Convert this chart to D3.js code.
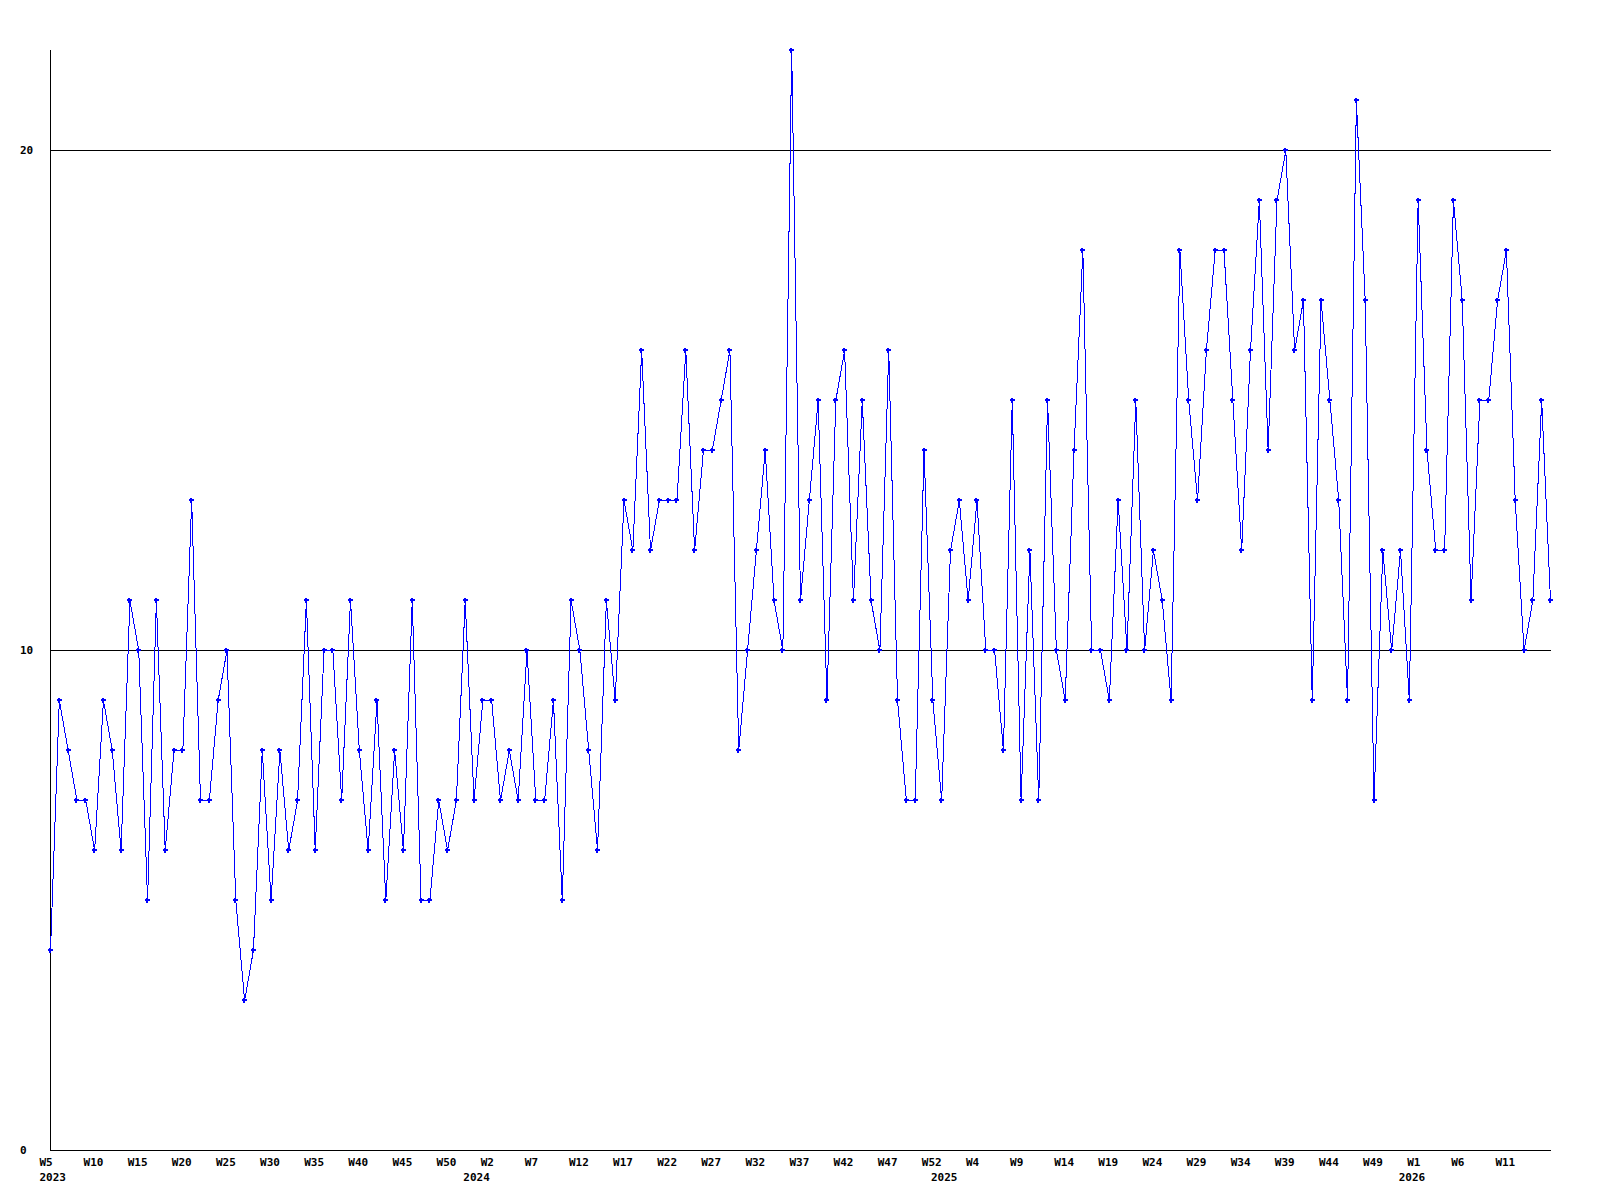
<!DOCTYPE html>
<html>
<head>
<meta charset="utf-8">
<script src="https://cdn.jsdelivr.net/npm/d3@7"></script>
<style>
  html, body { margin: 0; padding: 0; background: #fff; }
  svg { display: block; }
  text { font-family: "DejaVu Sans Mono", monospace; font-weight: bold; font-size: 11px; fill: #000; }
</style>
</head>
<body>
<svg id="chart" width="1600" height="1200"></svg>
<script>
// ---- data ----
const values = [
  4, 9, 8, 7, 7, 6, 9, 8, 6, 11,
  10, 5, 11, 6, 8, 8, 13, 7, 7, 9,
  10, 5, 3, 4, 8, 5, 8, 6, 7, 11,
  6, 10, 10, 7, 11, 8, 6, 9, 5, 8,
  6, 11, 5, 5, 7, 6, 7, 11, 7, 9,
  9, 7, 8, 7, 10, 7, 7, 9, 5, 11,
  10, 8, 6, 11, 9, 13, 12, 16, 12, 13,
  13, 13, 16, 12, 14, 14, 15, 16, 8, 10,
  12, 14, 11, 10, 22, 11, 13, 15, 9, 15,
  16, 11, 15, 11, 10, 16, 9, 7, 7, 14,
  9, 7, 12, 13, 11, 13, 10, 10, 8, 15,
  7, 12, 7, 15, 10, 9, 14, 18, 10, 10,
  9, 13, 10, 15, 10, 12, 11, 9, 18, 15,
  13, 16, 18, 18, 15, 12, 16, 19, 14, 19,
  20, 16, 17, 9, 17, 15, 13, 9, 21, 17,
  7, 12, 10, 12, 9, 19, 14, 12, 12, 19,
  17, 11, 15, 15, 17, 18, 13, 10, 11, 15,
  11
];
const weekTickLabels = ["W5","W10","W15","W20","W25","W30","W35","W40","W45","W50",
  "W2","W7","W12","W17","W22","W27","W32","W37","W42","W47",
  "W52","W4","W9","W14","W19","W24","W29","W34","W39","W44",
  "W49","W1","W6","W11"];
const weekTickIndex = weekTickLabels.map((_, k) => k * 5);
const yearLabels = ["2023", "2024", "2025", "2026"];
const yearIndex = [0, 49, 102, 155];
const yTicks = [0, 10, 20];

// ---- layout ----
const svg = d3.select("#chart");
const x = d3.scaleLinear().domain([0, values.length - 1]).range([50.5, 1550.5]);
const y = d3.scaleLinear().domain([0, 22]).range([1150.5, 50.5]);

// gridlines
svg.append("g").selectAll("line").data(yTicks.filter(d => d > 0)).join("line")
  .attr("x1", 50).attr("x2", 1551)
  .attr("y1", d => y(d)).attr("y2", d => y(d))
  .attr("stroke", "#000").attr("stroke-width", 1).attr("shape-rendering", "crispEdges");

// axes lines
svg.append("line").attr("x1", 50.5).attr("x2", 50.5).attr("y1", y(22) - 1).attr("y2", y(0))
  .attr("stroke", "#000").attr("shape-rendering", "crispEdges");
svg.append("line").attr("x1", 50).attr("x2", 1551).attr("y1", y(0)).attr("y2", y(0))
  .attr("stroke", "#000").attr("shape-rendering", "crispEdges");

// y labels
svg.append("g").selectAll("text").data(yTicks).join("text")
  .attr("x", 20).attr("y", d => y(d))
  .attr("dominant-baseline", "central")
  .text(d => d);

// x week labels
svg.append("g").selectAll("text").data(weekTickLabels).join("text")
  .attr("x", (d, k) => x(weekTickIndex[k]) - 11)
  .attr("y", 1166)
  .text(d => d);

// year labels
svg.append("g").selectAll("text").data(yearLabels).join("text")
  .attr("x", (d, k) => Math.max(x(yearIndex[k]) - 19.5, x(0) - 11))
  .attr("y", 1181)
  .text(d => d);

// data line
const line = d3.line().x((d, i) => x(i)).y(d => y(d));
svg.append("path").datum(values)
  .attr("d", line)
  .attr("fill", "none").attr("stroke", "#0000ff").attr("stroke-width", 1)
  .attr("shape-rendering", "crispEdges");

// markers
svg.append("g").selectAll("path").data(values).join("path")
  .attr("transform", (d, i) => `translate(${Math.round(x(i) - 0.5)},${Math.round(y(d) - 0.5)})`)
  .attr("d", "M-2,-0.5H-0.5V-2H0.5V-0.5H2V0.5H0.5V2H-0.5V0.5H-2Z")
  .attr("fill", "#0000ff").attr("stroke", "#0000ff").attr("stroke-width", 1)
  .attr("shape-rendering", "crispEdges");
</script>
</body>
</html>
